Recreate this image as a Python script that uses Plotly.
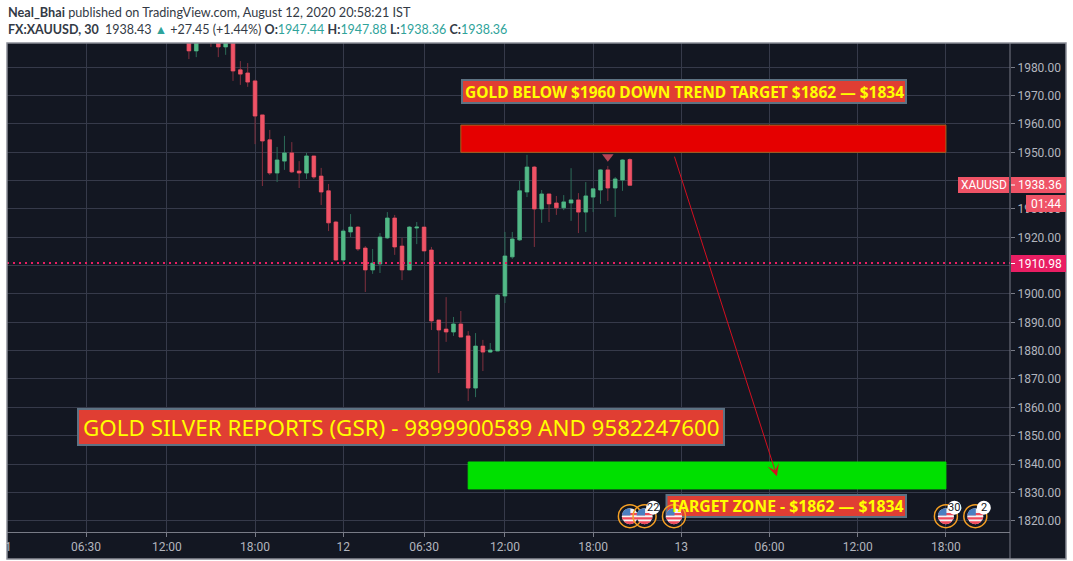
import math
import plotly.graph_objects as go

# ---------- data ----------
candle_idx = list(range(14, 75))
opens = [1990, 1985.8, 1990, 1993, 1992, 1987.2, 1990.5, 1979.1, 1978, 1975.2, 1963.2, 1954.4, 1942.7, 1946.9, 1949.8, 1943.4,
         1942.7, 1948.7, 1941.6, 1936.4, 1925.4, 1912, 1921.9, 1923.6, 1916.2, 1908.5, 1910.6, 1919.8, 1926.8, 1916.9, 1908.5,
         1923.3, 1923.6, 1915.5, 1890.8, 1887.6, 1886.6, 1889.4, 1885.2, 1866.8, 1881.6, 1879.5, 1879.9, 1899.3, 1913.1, 1919.1,
         1936, 1944.8, 1930, 1935.3, 1932.1, 1930.4, 1932.1, 1933.2, 1928.9, 1934.2, 1936.7, 1943.8, 1937.4, 1940.2, 1947.44]
highs = [1992, 1992, 1995, 1994, 1993.5, 1992, 1992, 1982.2, 1981.5, 1975.6, 1963.2, 1957.9, 1951.9, 1955.8, 1953.6, 1946.9,
         1949.8, 1948.7, 1944.5, 1938.8, 1925.8, 1922.9, 1928.2, 1924, 1916.9, 1915.9, 1921.5, 1928.9, 1927.9, 1919.8, 1924,
         1925.4, 1923.6, 1916.6, 1890.8, 1898.9, 1891.9, 1894, 1886.9, 1886.2, 1883.8, 1882.7, 1900, 1921.9, 1921.9, 1939.9,
         1949.1, 1945.2, 1936.7, 1935.3, 1934.6, 1934.9, 1944.4, 1935.6, 1939.5, 1937.1, 1944.1, 1945.2, 1941.3, 1947.6, 1947.88]
lows = [1982.9, 1983.6, 1989.5, 1987.2, 1983.6, 1984.4, 1975.2, 1973.8, 1973.1, 1952.9, 1938.1, 1942, 1939.5, 1943.8, 1942.7, 1937.4,
        1940.6, 1940.6, 1931.4, 1922.2, 1911.6, 1910.6, 1920.1, 1915.2, 1900.7, 1907.1, 1907.4, 1919.4, 1913.8, 1904.9, 1908.5,
        1917.6, 1915.2, 1887.3, 1872.1, 1883.1, 1885.2, 1884.8, 1862.2, 1863.6, 1872.8, 1879.2, 1879.9, 1896.8, 1912.4, 1918.7,
        1934.2, 1916.6, 1925.1, 1925.4, 1927.9, 1929.6, 1925.8, 1921.5, 1921.9, 1928.9, 1931.8, 1932.8, 1927.2, 1936.4, 1938.36]
closes = [1985.8, 1990, 1993, 1990, 1987.2, 1990.5, 1978.7, 1977.6, 1974.8, 1962.8, 1954, 1942.7, 1947.3, 1949.8, 1943.1, 1942.7,
          1948.7, 1941.3, 1936, 1925.1, 1912, 1922.2, 1923.6, 1915.9, 1908.5, 1910.9, 1920.1, 1926.8, 1916.6, 1908.5, 1923.6,
          1923.6, 1915.2, 1890.5, 1887.3, 1886.6, 1889.4, 1884.8, 1866.8, 1881.6, 1879.5, 1880.2, 1899.6, 1913.4, 1919.4, 1936.4,
          1944.8, 1930, 1935.3, 1931.8, 1930.4, 1932.5, 1933.2, 1928.9, 1934.6, 1937.1, 1943.8, 1937.4, 1940.6, 1947.3, 1938.36]

x_tick_idx = [0, 11, 23, 35, 46, 57, 69, 81, 93, 105, 117]
x_tick_text = ["06:30", "12:00", "18:00", "12", "06:30", "12:00", "18:00", "13", "06:00", "12:00", "18:00"]
y_ticks = list(range(1820, 1990, 10))
y_hidden_label = 1940  # fully covered by the last-price badge in the reference

resistance_zone = dict(x0=51, x1=117, y0=1950, y1=1959.6)
target_zone = dict(x0=52, x1=117, y0=1831.2, y1=1840.7)
arrow_start = (80, 1949)
arrow_end = (94, 1835.7)
signal_idx, signal_price = 71, 1948.4
prev_close = 1910.98
event_idx = [74, 76, 80, 117, 121]
event_count = [None, "22", None, "30", "2"]
event_price = 1821.6

# ---------- layout constants ----------
W, H = 1073, 561
L, R, T, B = 7, 1010, 43, 532
BG = "#131722"
GRID = "#363a4a"
AXIS = "#787b86"
RED, GREEN = "#ef5366", "#53b987"
RED_W, GREEN_W = "#80303f", "#2c6c58"
TICK = "#b2b5be"
TF = "Roboto, sans-serif"
LF = "'Noto Sans', sans-serif"


def px(x):
    return (x - L) / (R - L)


def py(y):
    return (B - y) / (B - T)


shapes = []
ann = []


def box(x0, y0, x1, y1, fill, line=None, lw=0):
    shapes.append(dict(type="rect", xref="paper", yref="paper", x0=px(x0), x1=px(x1), y0=py(y1), y1=py(y0),
                       fillcolor=fill, line=dict(color=line or fill, width=lw), layer="above"))


def text(x, y, s, size, color, font=TF, anchor="center"):
    ann.append(dict(xref="paper", yref="paper", x=px(x), y=py(y), text=s, showarrow=False, xanchor=anchor,
                    yanchor="middle", font=dict(family=font, size=size, color=color)))


# dark panel with axis strips
shapes.append(dict(type="rect", xref="paper", yref="paper", x0=px(L), x1=px(1066), y0=py(559), y1=1,
                   fillcolor=BG, line=dict(width=0), layer="below"))

# zones
for z, c, lc in [(resistance_zone, "#e50000", "#a8641e"), (target_zone, "#00e000", "#00e000")]:
    shapes.append(dict(type="rect", xref="x", yref="y", line=dict(color=lc, width=1), fillcolor=c, layer="above", **z))

# previous close dotted line
shapes.append(dict(type="line", xref="paper", yref="y", x0=0, x1=1, y0=prev_close, y1=prev_close,
                   line=dict(color="#e91e63", width=2, dash="2px,4px"), layer="above"))

# label boxes
LABEL = "#e03e33"
EDGE = "#5d7283"
box(462, 80, 906, 103, LABEL, EDGE, 2)
box(78, 409, 724, 445, LABEL, EDGE, 2)
box(666.5, 495, 906, 517, LABEL, EDGE, 2)

# flags drawn through pixel-sized shapes anchored on the event's bar


def chord(r, y0, y1, x_max=None):
    pts = []
    n = 8
    for k in range(n + 1):
        yy = y0 + (y1 - y0) * k / n
        pts.append((math.sqrt(max(r * r - yy * yy, 0)), yy))
    return pts


def poly(points):
    return "M" + " L".join(f"{a:.2f},{b:.2f}" for a, b in points) + " Z"


for idx, cnt in zip(event_idx, event_count):
    pix = dict(xref="x", yref="y", xsizemode="pixel", ysizemode="pixel", xanchor=idx, yanchor=event_price, layer="above")
    r = 8
    shapes.append(dict(type="circle", x0=-r, x1=r, y0=-r, y1=r, fillcolor="#f4f4f4", line=dict(width=0), **pix))
    for y0, y1 in [(-8, -5.2), (-3.4, -1.0), (1.0, 3.2)]:
        pts = chord(r, y0, y1)
        path = poly(pts + [(-a, b) for a, b in reversed(pts)])
        shapes.append(dict(type="path", path=path, fillcolor="#ef4a5a", line=dict(width=0), **pix))
    pts = chord(r, 0.6, 8)
    canton = [(0.5, 0.6), (0.5, 7.98)] + [(-a, b) for a, b in reversed(pts)]
    shapes.append(dict(type="path", path=poly(canton), fillcolor="#4a7fc1", line=dict(width=0), **pix))
    shapes.append(dict(type="circle", x0=-11.5, x1=11.5, y0=-11.5, y1=11.5, fillcolor="rgba(0,0,0,0)",
                       line=dict(color="#f5a024", width=1.5), **pix))
    if cnt:
        off = 8.5
        shapes.append(dict(type="circle", x0=off - 7, x1=off + 7, y0=off - 7, y1=off + 7, fillcolor="#ffffff",
                           line=dict(width=0), **pix))
        ann.append(dict(x=idx, y=event_price, xref="x", yref="y", text=cnt, showarrow=False, xshift=off, yshift=off,
                        font=dict(family=TF, size=11, color="#131722")))

# axis strip lines and border
shapes.append(dict(type="line", xref="paper", yref="paper", x0=1, x1=1, y0=py(559), y1=1,
                   line=dict(color=AXIS, width=1), layer="above"))
shapes.append(dict(type="rect", xref="paper", yref="paper", x0=px(7), x1=px(1066), y0=py(559), y1=py(43),
                   fillcolor="rgba(0,0,0,0)", line=dict(color="#8a8d97", width=1.5), layer="above"))

# price scale badges
box(958, 177, 1009, 193, RED)
box(1011, 177, 1066, 193, RED)
box(1026, 195, 1066, 212, RED)
box(1011, 255, 1066, 272, "#e91e63")
for yy in (185, 263.5):
    shapes.append(dict(type="line", xref="paper", yref="paper", x0=px(1011), x1=px(1015), y0=py(yy), y1=py(yy),
                       line=dict(color="#ffffff", width=1), layer="above"))
text(983.5, 185, "XAUUSD", 12, "#ffffff")
text(1039.5, 185, "1938.36", 12, "#ffffff")
text(1046, 203.5, "01:44", 12, "#ffffff")
text(1039.5, 263.5, "1910.98", 12, "#ffffff")
text(8, 547, "1", 12, TICK)

# on-chart labels
text(684, 91.5, "<b>GOLD BELOW $1960 DOWN TREND TARGET $1862 — $1834</b>", 15.5, "#ffff00", LF)
text(401, 427, "GOLD SILVER REPORTS (GSR) - 9899900589 AND 9582247600", 22.4, "#ffff00", LF)
text(786.5, 506, "<b>TARGET ZONE - $1862 — $1834</b>", 15.8, "#ffff00", LF)

# header
HF = "Lato, sans-serif"
text(6, 12, "<b>Neal_Bhai</b> published on TradingView.com, August 12, 2020 20:58:21 IST", 12.7, "#333a45", HF, "left")
teal = "#2fa39a"
text(6, 29.5, f"<b>FX:XAUUSD, 30</b>  1938.43 <span style='color:{teal}'>▲</span> +27.45 (+1.44%) <b>O:</b>"
     f"<span style='color:{teal}'>1947.44</span> <b>H:</b><span style='color:{teal}'>1947.88</span> "
     f"<b>L:</b><span style='color:{teal}'>1938.36</span> <b>C:</b><span style='color:{teal}'>1938.36</span>",
     12.5, "#333a45", HF, "left")

# arrow
ann.append(dict(x=arrow_end[0], y=arrow_end[1], ax=arrow_start[0], ay=arrow_start[1], axref="x", ayref="y",
                xref="x", yref="y", text="", showarrow=True, arrowhead=3, arrowsize=2, arrowwidth=1,
                arrowcolor="#d40f20"))

fig = go.Figure()
# full candles in the dim wick colour
fig.add_trace(go.Candlestick(x=candle_idx, open=opens, high=highs, low=lows, close=closes,
                             increasing=dict(line=dict(color=GREEN_W, width=1), fillcolor=GREEN_W),
                             decreasing=dict(line=dict(color=RED_W, width=1), fillcolor=RED_W),
                             whiskerwidth=0, showlegend=False, hoverinfo="skip"))
# bodies on top
fig.add_trace(go.Candlestick(x=candle_idx, open=opens, close=closes,
                             high=[max(a, b) for a, b in zip(opens, closes)],
                             low=[min(a, b) for a, b in zip(opens, closes)],
                             increasing=dict(line=dict(color=GREEN, width=0.5), fillcolor=GREEN),
                             decreasing=dict(line=dict(color=RED, width=0.5), fillcolor=RED),
                             whiskerwidth=0, showlegend=False, hoverinfo="skip"))
fig.add_trace(go.Scatter(x=[signal_idx], y=[signal_price], mode="markers", showlegend=False, hoverinfo="skip",
                         marker=dict(symbol="triangle-down", size=10, color="rgba(239,83,102,0.75)", line=dict(width=0))))

fig.update_layout(
    width=W, height=H, autosize=False,
    margin=dict(l=L, r=W - R, t=T, b=H - B, pad=0),
    paper_bgcolor="#ffffff", plot_bgcolor=BG,
    showlegend=False, shapes=shapes, annotations=ann, boxgap=0.3,
    font=dict(family=TF, color=TICK),
    xaxis=dict(range=[-10.75, 125.72], rangeslider=dict(visible=False), tickmode="array", tickvals=x_tick_idx,
               ticktext=x_tick_text, showgrid=True, gridcolor=GRID, gridwidth=1, zeroline=False, showline=True,
               linecolor=AXIS, ticks="outside", ticklen=4, tickcolor=AXIS, tickfont=dict(family=TF, size=12, color=TICK)),
    yaxis=dict(range=[1816.0, 1988.58], side="right", tickmode="array", tickvals=y_ticks,
               ticktext=["" if v == y_hidden_label else f"{v:.2f}" for v in y_ticks], showgrid=True, gridcolor=GRID,
               gridwidth=1, zeroline=False, showline=False, ticks="outside", ticklen=4, tickcolor=AXIS,
               tickfont=dict(family=TF, size=12, color=TICK)),
)
fig.write_html("out.html", config=dict(displayModeBar=False),
               post_script="document.body.style.margin='0';document.documentElement.style.overflow='hidden';")
